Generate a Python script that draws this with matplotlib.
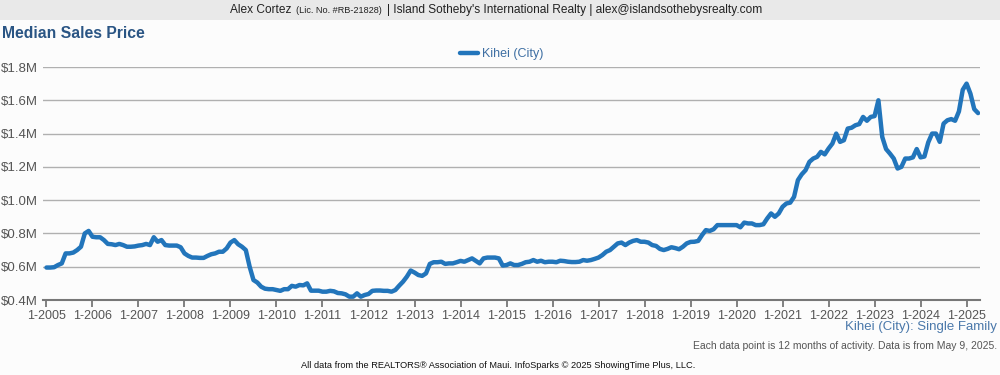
import matplotlib.pyplot as plt
import numpy as np

plt.rcParams['font.family'] = ['Liberation Sans', 'DejaVu Sans']

# monthly median price, $M, Jan 2005 .. Apr 2025
price_2005 = [0.595, 0.595, 0.597, 0.61, 0.62, 0.68, 0.68, 0.685, 0.70, 0.72, 0.80, 0.815]
price_2006 = [0.78, 0.777, 0.777, 0.76, 0.737, 0.735, 0.73, 0.737, 0.73, 0.72, 0.72, 0.722]
price_2007 = [0.727, 0.73, 0.737, 0.73, 0.777, 0.75, 0.76, 0.73, 0.727, 0.727, 0.727, 0.717]
price_2008 = [0.68, 0.665, 0.655, 0.655, 0.653, 0.653, 0.665, 0.675, 0.68, 0.69, 0.69, 0.71]
price_2009 = [0.745, 0.76, 0.735, 0.72, 0.70, 0.60, 0.52, 0.505, 0.48, 0.468, 0.465, 0.465]
price_2010 = [0.46, 0.455, 0.465, 0.465, 0.485, 0.48, 0.49, 0.488, 0.50, 0.456, 0.456, 0.456]
price_2011 = [0.45, 0.45, 0.455, 0.452, 0.442, 0.44, 0.434, 0.42, 0.42, 0.44, 0.42, 0.43]
price_2012 = [0.436, 0.455, 0.457, 0.457, 0.455, 0.455, 0.45, 0.46, 0.486, 0.51, 0.54, 0.577]
price_2013 = [0.565, 0.55, 0.545, 0.56, 0.617, 0.627, 0.627, 0.63, 0.617, 0.62, 0.62, 0.627]
price_2014 = [0.635, 0.63, 0.64, 0.65, 0.635, 0.62, 0.65, 0.655, 0.655, 0.655, 0.65, 0.607]
price_2015 = [0.61, 0.62, 0.61, 0.61, 0.617, 0.627, 0.63, 0.64, 0.63, 0.636, 0.627, 0.63]
price_2016 = [0.63, 0.627, 0.636, 0.634, 0.63, 0.628, 0.628, 0.63, 0.64, 0.636, 0.64, 0.647]
price_2017 = [0.655, 0.67, 0.69, 0.70, 0.72, 0.74, 0.745, 0.73, 0.745, 0.755, 0.76, 0.75]
price_2018 = [0.75, 0.745, 0.73, 0.725, 0.707, 0.70, 0.707, 0.717, 0.712, 0.705, 0.72, 0.74]
price_2019 = [0.749, 0.75, 0.755, 0.79, 0.82, 0.815, 0.825, 0.85, 0.85, 0.85, 0.85, 0.85]
price_2020 = [0.85, 0.837, 0.865, 0.86, 0.86, 0.85, 0.85, 0.855, 0.89, 0.92, 0.90, 0.92]
price_2021 = [0.96, 0.98, 0.985, 1.02, 1.12, 1.155, 1.18, 1.23, 1.25, 1.26, 1.29, 1.275]
price_2022 = [1.31, 1.34, 1.40, 1.35, 1.36, 1.43, 1.435, 1.45, 1.457, 1.50, 1.477, 1.50]
price_2023 = [1.505, 1.60, 1.38, 1.307, 1.28, 1.25, 1.19, 1.20, 1.25, 1.25, 1.257, 1.307]
price_2024 = [1.257, 1.262, 1.347, 1.40, 1.40, 1.35, 1.46, 1.48, 1.487, 1.477, 1.533, 1.663]
price_2025 = [1.70, 1.64, 1.547, 1.523]

price = (price_2005 + price_2006 + price_2007 + price_2008 + price_2009 + price_2010
         + price_2011 + price_2012 + price_2013 + price_2014 + price_2015 + price_2016
         + price_2017 + price_2018 + price_2019 + price_2020 + price_2021 + price_2022
         + price_2023 + price_2024 + price_2025)
years = list(range(2005, 2026))
year_labels = ['1-%d' % y for y in years]
yticks = [0.4, 0.6, 0.8, 1.0, 1.2, 1.4, 1.6, 1.8]
ytick_labels = ['$%.1fM' % v for v in yticks]

blue = '#2275bb'

fig = plt.figure(figsize=(10, 3.75), dpi=100)
fig.patch.set_facecolor('#fcfcfc')

# header band
fig.patches.append(plt.Rectangle((0, 1 - 20/375), 1, 20/375, transform=fig.transFigure,
                                 facecolor='#e9e9e9', edgecolor='none'))
fig.text(0.230, 1 - 10/375, 'Alex Cortez', ha='left', va='center', fontsize=8.6, color='#222222')
fig.text(0.296, 1 - 10.5/375, '(Lic. No. #RB-21828)', ha='left', va='center', fontsize=6.6, color='#222222')
fig.text(0.387, 1 - 10/375, "| Island Sotheby's International Realty | alex@islandsothebysrealty.com",
         ha='left', va='center', fontsize=8.6, color='#222222')

fig.text(0.002, 1 - 33/375, 'Median Sales Price', ha='left', va='center', fontsize=11.3,
         fontweight='bold', color='#2a5584')

ax = fig.add_axes([0.043, 0.2, 0.937, 1 - 67/375 - 0.2])
ax.set_facecolor('#fcfcfc')
ax.plot(np.arange(len(price)), price, color=blue, lw=3.2, solid_joinstyle='round',
        solid_capstyle='round', label='Kihei (City)')

ax.set_ylim(0.4, 1.8)
ax.set_xlim(-0.9, 243.5)
ax.set_yticks(yticks)
ax.set_yticklabels(ytick_labels)
ax.set_xticks([(y - 2005) * 12 for y in years])
ax.set_xticklabels(year_labels)
ax.grid(axis='y', color='#b0b0b0', lw=1)
ax.set_axisbelow(True)
for s in ['top', 'right', 'left']:
    ax.spines[s].set_visible(False)
ax.spines['bottom'].set_color('#777777')
ax.spines['bottom'].set_linewidth(1.5)
ax.tick_params(axis='y', length=0, labelsize=9.5, colors='#555555', pad=3.5)
ax.tick_params(axis='x', length=5, width=1.3, color='#777777', labelsize=9,
               labelcolor='#555555', pad=2)

leg = fig.legend(loc='center', bbox_to_anchor=(0.502, 1 - 54/375), frameon=False,
                 fontsize=9, handlelength=1.4, handletextpad=0.35)
for t in leg.get_texts():
    t.set_color('#3e6fa3')

fig.text(0.997, 1 - 327/375, 'Kihei (City): Single Family', ha='right', va='center',
         fontsize=9.5, color='#4a78aa')
fig.text(0.997, 1 - 346/375, 'Each data point is 12 months of activity. Data is from May 9, 2025.',
         ha='right', va='center', fontsize=7.5, color='#555555')
fig.text(0.4985, 1 - 365/375, 'All data from the REALTORS\u00ae Association of Maui. InfoSparks \u00a9 2025 ShowingTime Plus, LLC.',
         ha='center', va='center', fontsize=6.7, color='#111111')

fig.savefig('out.png', dpi=100, facecolor=fig.get_facecolor())
